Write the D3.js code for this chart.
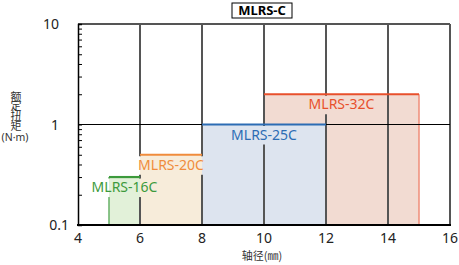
<!DOCTYPE html>
<html>
<head>
<meta charset="utf-8">
<script src="https://cdn.jsdelivr.net/npm/d3@7"></script>
<style>
  body { margin: 0; background: #fff; }
  svg { display: block; font-family: "Noto Sans", "Open Sans", sans-serif; }
</style>
</head>
<body>
<div id="chart"></div>
<script>
// model names and their ranges (shaft diameter mm, rated torque N·m)
var models = ["MLRS-16C", "MLRS-20C", "MLRS-25C", "MLRS-32C"];
var shaftMin = [5, 6, 8, 10];
var shaftMax = [6, 8, 12, 15];
var torque = [0.3, 0.5, 1, 2];
var lineColors = ["#3c9a3c", "#f08c3c", "#2c6cb4", "#e8502c"];
var fillColors = ["#e2f1d9", "#f7ecda", "#dde4ef", "#f2dbd2"];
var edgeColors = ["#66b066", "#f0a060", "#6c90c8", "#ef8c78"];
var xTicks = [4, 6, 8, 10, 12, 14, 16];
var yTicks = [0.1, 1, 10];

var width = 459, height = 265;
var margin = { top: 24, right: 9, bottom: 40, left: 78 };

var svg = d3.select("#chart").append("svg")
    .attr("width", width)
    .attr("height", height);

var x = d3.scaleLinear().domain([4, 16]).range([margin.left, width - margin.right]);
var y = d3.scaleLog().domain([0.1, 10]).range([height - margin.bottom, margin.top]);

var data = models.map(function (m, i) {
    return { name: m, x0: shaftMin[i], x1: shaftMax[i], v: torque[i],
             line: lineColors[i], fill: fillColors[i], edge: edgeColors[i] };
});
// draw the biggest first so the smaller ones sit on top
var order = data.slice().sort(function (a, b) { return b.v - a.v; });

var boxes = svg.append("g");
boxes.selectAll("rect")
    .data(order)
    .enter()
    .append("rect")
    .attr("x", function (d) { return x(d.x0); })
    .attr("y", function (d) { return y(d.v); })
    .attr("width", function (d) { return x(d.x1) - x(d.x0); })
    .attr("height", function (d) { return y(0.1) - y(d.v); })
    .attr("fill", function (d) { return d.fill; });

// vertical lines go in here; they get masked out behind the labels
var defs = svg.append("defs");
var mask = defs.append("mask")
    .attr("id", "gaps")
    .attr("maskUnits", "userSpaceOnUse")
    .attr("x", 0).attr("y", 0)
    .attr("width", width).attr("height", height);
mask.append("rect")
    .attr("width", width).attr("height", height)
    .attr("fill", "#fff");

var vlines = svg.append("g").attr("mask", "url(#gaps)");

// side edges
order.forEach(function (d) {
    [d.x0, d.x1].forEach(function (xv) {
        vlines.append("line")
            .attr("x1", x(xv)).attr("x2", x(xv))
            .attr("y1", y(d.v)).attr("y2", y(0.1))
            .attr("stroke", d.edge)
            .attr("stroke-width", 1.5);
    });
});

// grid
vlines.selectAll("line.grid")
    .data(xTicks.slice(1))
    .enter()
    .append("line")
    .attr("class", "grid")
    .attr("x1", function (d) { return x(d); })
    .attr("x2", function (d) { return x(d); })
    .attr("y1", y(10))
    .attr("y2", y(0.1))
    .attr("stroke", "#555")
    .attr("stroke-width", 2);

svg.append("line")
    .attr("x1", x(4)).attr("x2", x(16))
    .attr("y1", y(10)).attr("y2", y(10))
    .attr("stroke", "#555")
    .attr("stroke-width", 2);

svg.append("line")
    .attr("x1", x(4)).attr("x2", x(16))
    .attr("y1", y(1)).attr("y2", y(1))
    .attr("stroke", "#000")
    .attr("stroke-width", 1.2);

// labels; each one cuts a gap in the vertical lines
var labels = svg.append("g");
data.forEach(function (d) {
    var base = y(d.v) + 15;
    var t = labels.append("text")
        .attr("x", (x(d.x0) + x(d.x1)) / 2)
        .attr("y", base)
        .attr("text-anchor", "middle")
        .attr("fill", d.line)
        .style("font-size", "14px")
        .text(d.name);
    var bb = t.node().getBBox();
    mask.append("rect")
        .attr("x", bb.x - 1).attr("y", y(d.v) + 1.5)
        .attr("width", bb.width + 2).attr("height", base + 5 - y(d.v) - 1.5)
        .attr("fill", "#000");
});

// top lines of each range
svg.append("g")
    .selectAll("line")
    .data(order)
    .enter()
    .append("line")
    .attr("x1", function (d) { return x(d.x0); })
    .attr("x2", function (d) { return x(d.x1); })
    .attr("y1", function (d) { return y(d.v); })
    .attr("y2", function (d) { return y(d.v); })
    .attr("stroke", function (d) { return d.line; })
    .attr("stroke-width", 2.2);

// axes
var yAxis = d3.axisLeft(y)
    .tickValues(d3.range(1, 10).map(function (k) { return k * 0.1; })
        .concat(d3.range(1, 10)).concat([10]))
    .tickSize(-4)
    .tickFormat("");

svg.append("g")
    .attr("transform", "translate(" + margin.left + ",0)")
    .call(yAxis)
    .call(function (g) {
        g.select(".domain").attr("stroke", "#000").attr("stroke-width", 1.5);
        g.selectAll(".tick line").attr("stroke", "#000");
    });

svg.append("line")
    .attr("x1", x(4) - 1).attr("x2", x(16) + 1)
    .attr("y1", y(0.1)).attr("y2", y(0.1))
    .attr("stroke", "#000")
    .attr("stroke-width", 2);

// tick labels
svg.append("g")
    .selectAll("text")
    .data(xTicks)
    .enter()
    .append("text")
    .attr("x", function (d) { return x(d); })
    .attr("y", y(0.1) + 18)
    .attr("text-anchor", "middle")
    .style("font-size", "14px")
    .attr("fill", "#222")
    .text(function (d) { return d; });

svg.append("g")
    .selectAll("text")
    .data(yTicks)
    .enter()
    .append("text")
    .attr("x", function (d) { return d == 0.1 ? margin.left - 9 : margin.left - 19; })
    .attr("y", function (d) { return y(d) + 5; })
    .attr("text-anchor", "end")
    .style("font-size", "14px")
    .attr("fill", "#222")
    .text(function (d) { return d; });

// axis titles: the y one is set vertically, unit underneath
svg.append("text")
    .attr("x", 16)
    .attr("y", 91)
    .style("writing-mode", "vertical-rl")
    .style("font-size", "11px")
    .style("letter-spacing", "-1.3px")
    .style("font-family", "'Noto Sans CJK SC', sans-serif")
    .attr("fill", "#333")
    .text("额定扭矩");

svg.append("text")
    .attr("x", 15)
    .attr("y", 141)
    .attr("text-anchor", "middle")
    .style("font-size", "10.5px")
    .attr("fill", "#333")
    .text("(N·m)");

svg.append("text")
    .attr("x", 262)
    .attr("y", 260)
    .attr("text-anchor", "middle")
    .style("font-size", "11px")
    .style("font-family", "'Noto Sans CJK SC', sans-serif")
    .attr("fill", "#333")
    .text("轴径(㎜)");

// title box
svg.append("rect")
    .attr("x", 232).attr("y", 3)
    .attr("width", 60).attr("height", 15)
    .attr("fill", "#fff")
    .attr("stroke", "#000")
    .attr("stroke-width", 1);

svg.append("text")
    .attr("x", 262)
    .attr("y", 15)
    .attr("text-anchor", "middle")
    .style("font-size", "13px")
    .style("font-weight", "bold")
    .attr("fill", "#000")
    .text("MLRS-C");
</script>
</body>
</html>
